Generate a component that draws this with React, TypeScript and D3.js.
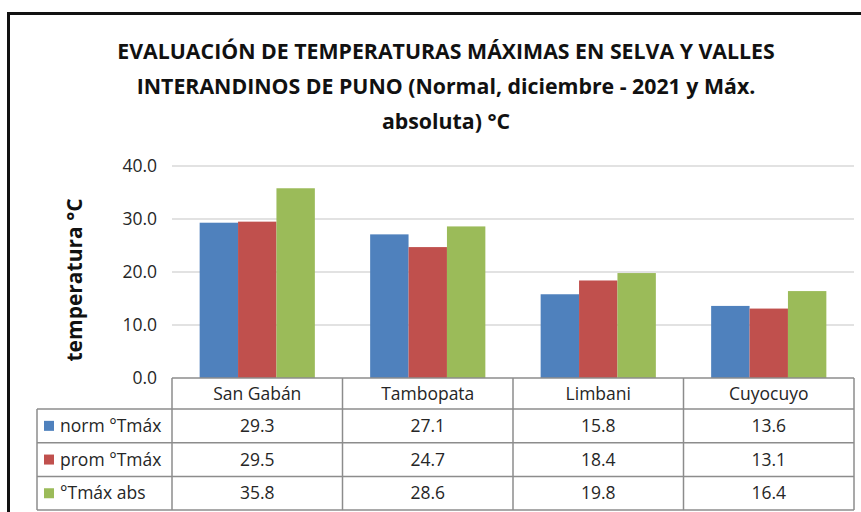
import React from "react";
import * as d3 from "d3";

// chart values
const categories = ["San Gabán", "Tambopata", "Limbani", "Cuyocuyo"];
const seriesNames = ["norm °Tmáx", "prom °Tmáx", "°Tmáx abs"];
const normTmax = [29.3, 27.1, 15.8, 13.6];
const promTmax = [29.5, 24.7, 18.4, 13.1];
const absTmax = [35.8, 28.6, 19.8, 16.4];
const yTicks = [0, 10, 20, 30, 40];
const titleLines = [
  "EVALUACIÓN DE TEMPERATURAS MÁXIMAS EN SELVA Y VALLES",
  "INTERANDINOS DE PUNO (Normal, diciembre - 2021 y Máx.",
  "absoluta) °C",
];
const yTitle = "temperatura °C";

const colors = ["#4f81bd", "#c0504d", "#9bbb59"];
const seriesValues = [normTmax, promTmax, absTmax];

const W = 861;
const H = 512;
const FONT = "'Open Sans', 'Liberation Sans', sans-serif";

export default function App() {
  // plot area
  const left = 172;
  const right = 854;
  const top = 166;
  const bottom = 378;

  // table rows under the plot
  const headerBottom = 409;
  const rowH = 33.7;
  const legendLeft = 37;

  const x = d3.scaleBand<string>().domain(categories).range([left, right]).padding(0);
  const xs = d3
    .scaleBand<string>()
    .domain(seriesNames)
    .range([0, x.bandwidth()])
    .paddingInner(0)
    .paddingOuter(0.72);
  const y = d3.scaleLinear().domain([0, 40]).range([bottom, top]);

  const tableBottom = headerBottom + rowH * seriesNames.length;
  const gridCol = "#d9d9d9";
  const tableCol = "#8c8c8c";
  const textCol = "#262626";
  const tableFont = 17.5;

  return (
    <svg
      width={W}
      height={H}
      style={{ position: "absolute", left: 0, top: 0, background: "#fff" }}
      fontFamily={FONT}
    >
      {/* chart frame (only left and top edges are visible) */}
      <path d={`M8.5,${H} V13.5 H${W}`} fill="none" stroke="#111" strokeWidth={3} />

      {/* title */}
      {titleLines.map((t, i) => (
        <text
          key={i}
          x={446}
          y={59 + i * 35}
          textAnchor="middle"
          fontSize={21.3}
          fontWeight="bold"
          fill="#111"
        >
          {t}
        </text>
      ))}

      {/* gridlines */}
      {yTicks.slice(1).map((t) => (
        <line key={t} x1={left} x2={right} y1={y(t)} y2={y(t)} stroke={gridCol} strokeWidth={1.5} />
      ))}

      {/* y tick labels */}
      {yTicks.map((t) => (
        <text key={t} x={157} y={y(t)} dy="0.35em" textAnchor="end" fontSize={17.5} fill={textCol}>
          {t.toFixed(1)}
        </text>
      ))}

      {/* y axis title */}
      <text
        transform={`translate(82,${(top + bottom) / 2 + 8}) rotate(-90)`}
        textAnchor="middle"
        fontSize={21}
        fontWeight="bold"
        fill="#111"
      >
        {yTitle}
      </text>

      {/* bars */}
      {categories.map((c, ci) => (
        <g key={c} transform={`translate(${x(c)},0)`}>
          {seriesNames.map((s, si) => {
            const v = seriesValues[si][ci];
            return (
              <rect
                key={s}
                x={xs(s)}
                y={y(v)}
                width={xs.bandwidth()}
                height={y(0) - y(v)}
                fill={colors[si]}
              />
            );
          })}
        </g>
      ))}

      {/* data table */}
      <g stroke={tableCol} strokeWidth={1.5} fill="none">
        <line x1={left} x2={right} y1={bottom} y2={bottom} />
        <line x1={legendLeft} x2={right} y1={headerBottom} y2={headerBottom} />
        {seriesNames.map((s, i) => (
          <line
            key={s}
            x1={legendLeft}
            x2={right}
            y1={headerBottom + rowH * (i + 1)}
            y2={headerBottom + rowH * (i + 1)}
          />
        ))}
        <line x1={legendLeft} x2={legendLeft} y1={headerBottom} y2={tableBottom} />
        {categories.map((c) => (
          <line key={c} x1={x(c)} x2={x(c)} y1={bottom} y2={tableBottom} />
        ))}
        <line x1={right} x2={right} y1={bottom} y2={tableBottom} />
      </g>

      {categories.map((c) => (
        <text
          key={c}
          x={(x(c) ?? 0) + x.bandwidth() / 2}
          y={(bottom + headerBottom) / 2}
          dy="0.35em"
          textAnchor="middle"
          fontSize={tableFont}
          fill={textCol}
        >
          {c}
        </text>
      ))}

      {seriesNames.map((s, si) => {
        const cy = headerBottom + rowH * si + rowH / 2;
        return (
          <g key={s}>
            <rect x={legendLeft + 7} y={cy - 5} width={10} height={10} fill={colors[si]} />
            <text x={legendLeft + 23} y={cy} dy="0.35em" fontSize={tableFont} fill={textCol}>
              {s}
            </text>
            {categories.map((c, ci) => (
              <text
                key={c}
                x={(x(c) ?? 0) + x.bandwidth() / 2}
                y={cy}
                dy="0.35em"
                textAnchor="middle"
                fontSize={tableFont}
                fill={textCol}
              >
                {seriesValues[si][ci].toFixed(1)}
              </text>
            ))}
          </g>
        );
      })}
    </svg>
  );
}
